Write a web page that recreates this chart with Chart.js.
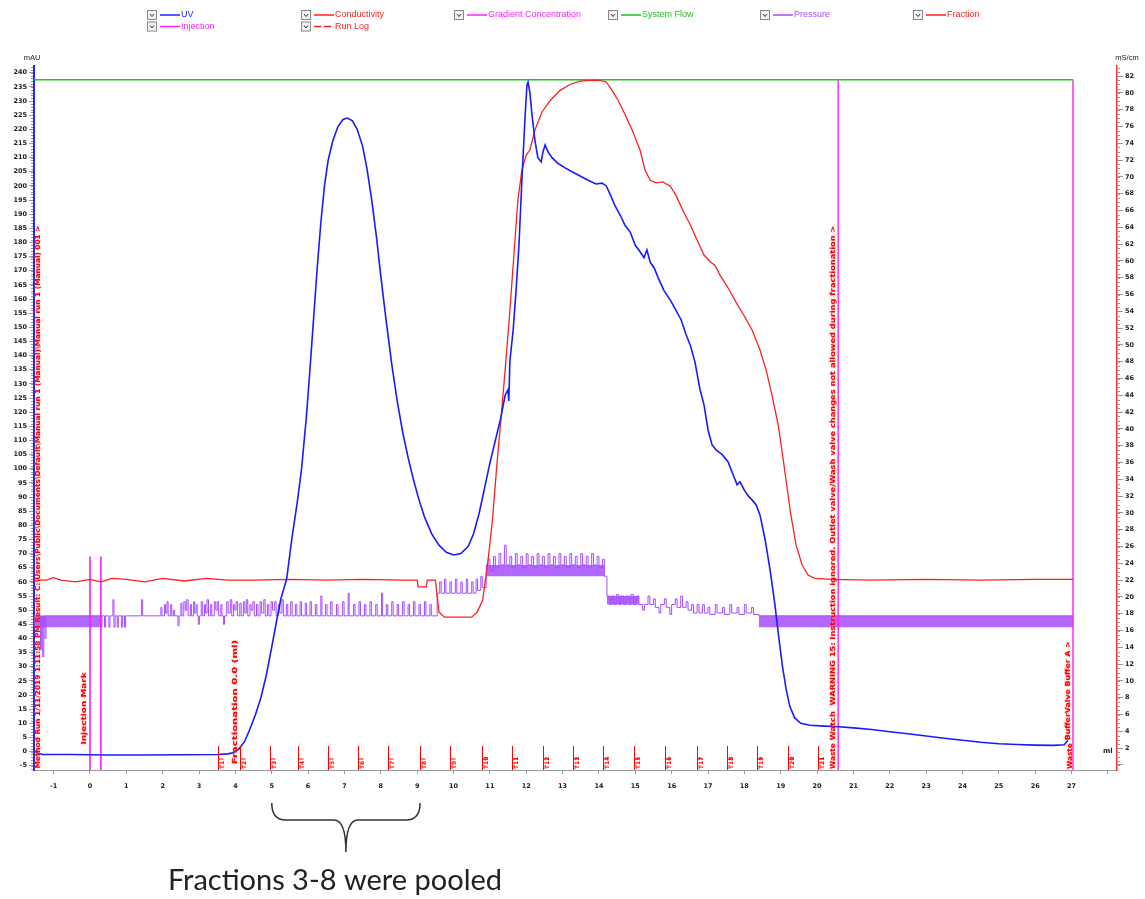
<!DOCTYPE html>
<html>
<head>
<meta charset="utf-8">
<title>Chromatogram</title>
<script src="https://cdn.jsdelivr.net/npm/chart.js@4.4.1/dist/chart.umd.min.js"></script>
<style>
  html, body { margin: 0; padding: 0; background: #fff; }
  #wrap { position: relative; width: 1145px; height: 899px; }
</style>
</head>
<body>
<div id="wrap"><canvas id="chart" width="1145" height="899"></canvas></div>
<script>
// UV 280 trace: [ml, mAU]
const uv = [
  [-1.54, 0.5], [-1.45, -0.5], [-1.3, -1], [-0.5, -1], [0.5, -1.2], [1.5, -1.2], [2.5, -1.1], [3.5, -1],
  [3.8, -0.8], [3.95, -0.3], [4.1, 1], [4.25, 3.5], [4.4, 8], [4.55, 13], [4.7, 19], [4.85, 27],
  [5.0, 37], [5.13, 46], [5.25, 54], [5.41, 61], [5.55, 75], [5.7, 88], [5.82, 100], [5.95, 118],
  [6.05, 135], [6.15, 153], [6.25, 171], [6.35, 187], [6.45, 200], [6.55, 209], [6.68, 216], [6.82, 221],
  [6.96, 223.5], [7.08, 224], [7.22, 223], [7.35, 220], [7.5, 214], [7.62, 206], [7.75, 195], [7.88, 182],
  [8.0, 168], [8.15, 152], [8.3, 137], [8.45, 124], [8.6, 113], [8.75, 104], [8.9, 96], [9.05, 89],
  [9.2, 83], [9.4, 77], [9.6, 73], [9.8, 70.5], [10.0, 69.5], [10.2, 70], [10.4, 72.5], [10.55, 77],
  [10.7, 84], [10.85, 93], [11.0, 102], [11.15, 110], [11.3, 118], [11.42, 126], [11.5, 128], [11.52, 124],
  [11.55, 138], [11.64, 149], [11.72, 163], [11.8, 179], [11.88, 202], [11.97, 225], [12.02, 235.7], [12.05, 236.7],
  [12.1, 233], [12.16, 225], [12.24, 216], [12.32, 210], [12.41, 208.5], [12.46, 212], [12.52, 214.5], [12.6, 212],
  [12.71, 210], [12.87, 208], [13.07, 206.4], [13.26, 205], [13.48, 203.5], [13.7, 202], [13.92, 200.7], [14.09, 201],
  [14.2, 200], [14.31, 197], [14.44, 193], [14.58, 189.8], [14.72, 186], [14.86, 183.7], [15.0, 179], [15.13, 176.7],
  [15.24, 174.6], [15.32, 177.4], [15.41, 173], [15.52, 171], [15.63, 167.5], [15.79, 163], [15.96, 159.7], [16.12, 156],
  [16.26, 152.7], [16.4, 147.3], [16.51, 143.8], [16.64, 137.8], [16.78, 128], [16.89, 122.6], [17.0, 113.8], [17.11, 108.5],
  [17.22, 106.7], [17.39, 105], [17.55, 102.5], [17.69, 97.9], [17.8, 94.3], [17.88, 95.4], [17.99, 92.6], [18.1, 90.5],
  [18.21, 89], [18.32, 87.3], [18.43, 83.7], [18.57, 75], [18.71, 64], [18.84, 52], [18.95, 40], [19.05, 30],
  [19.15, 22], [19.25, 16], [19.38, 12], [19.55, 10], [19.8, 9.3], [20.2, 9], [20.6, 8.8], [21.0, 8.4],
  [21.5, 7.8], [22.0, 7], [22.5, 6.3], [23.0, 5.5], [23.5, 4.7], [24.0, 4], [24.5, 3.3], [25.0, 2.8],
  [25.5, 2.5], [26.0, 2.3], [26.5, 2.2], [26.8, 2.4], [26.9, 4]
];

// Conductivity: [ml, mS/cm]
const conductivity = [
  [-1.54, 22.0], [-1.2, 22.0], [-1.0, 22.3], [-0.8, 22.0], [-0.4, 21.8], [0.0, 22.1], [0.3, 21.8], [0.6, 22.2],
  [1.0, 22.1], [1.5, 21.8], [2.0, 22.2], [2.6, 21.9], [3.2, 22.2], [3.8, 22.0], [4.5, 22.0], [5.5, 22.1],
  [6.5, 22.0], [7.5, 22.1], [8.6, 22.0], [9.0, 22.0], [9.03, 21.2], [9.25, 21.2], [9.28, 22.0], [9.5, 22.0],
  [9.6, 18.2], [9.75, 17.6], [10.5, 17.6], [10.65, 18.2], [10.8, 19.6], [10.95, 24.4], [11.07, 29.1], [11.18, 35.1],
  [11.3, 41], [11.42, 47], [11.55, 54.1], [11.66, 60.7], [11.77, 67.2], [11.88, 70.8], [12.0, 72.6], [12.1, 73.2],
  [12.24, 75.6], [12.43, 77.7], [12.66, 79.1], [12.93, 80.3], [13.2, 81], [13.48, 81.4], [13.76, 81.5], [14.03, 81.5],
  [14.2, 81.3], [14.36, 80.3], [14.53, 79.1], [14.72, 77.4], [14.91, 75.6], [15.13, 73.2], [15.27, 70.8], [15.41, 69.6],
  [15.57, 69.3], [15.76, 69.4], [15.96, 68.9], [16.12, 67.8], [16.31, 66], [16.51, 64.3], [16.7, 62.5], [16.89, 60.7],
  [17.06, 59.9], [17.19, 59.5], [17.33, 58.3], [17.55, 56.8], [17.77, 55.1], [17.99, 53.5], [18.21, 51.8], [18.43, 49.4],
  [18.6, 47], [18.76, 44], [18.93, 40.5], [19.09, 35.7], [19.26, 30.3], [19.42, 26.2], [19.59, 23.8], [19.75, 22.6],
  [19.94, 22.2], [20.4, 22.1], [21.5, 22.0], [23.0, 22.1], [24.5, 22.0], [26.0, 22.1], [27.04, 22.1]
];

// Pressure, drawn as steps on the mAU scale: [ml, value]
const pressure = [
  [-1.54, 48], [-1.36, 36], [-1.33, 48], [-1.3, 33.5], [-1.27, 48], [-1.24, 40], [-1.21, 48],
  [0.4, 44], [0.43, 48], [0.52, 44], [0.55, 48], [0.63, 53.7], [0.66, 44], [0.69, 48], [0.75, 44], [0.78, 48],
  [0.87, 44], [0.9, 48], [0.95, 44], [0.98, 48], [1.42, 53.7], [1.45, 48],
  [1.95, 51], [1.98, 48], [2.05, 52], [2.08, 49], [2.12, 53], [2.15, 48], [2.22, 52], [2.25, 48], [2.3, 50], [2.33, 48],
  [2.42, 44.5], [2.45, 48], [2.5, 52.5], [2.53, 48], [2.58, 53], [2.62, 50], [2.66, 53.7], [2.7, 48], [2.76, 52], [2.79, 48],
  [2.85, 53], [2.88, 49], [2.92, 52], [2.95, 48], [2.98, 45], [3.01, 48], [3.06, 53], [3.1, 48], [3.15, 52], [3.18, 49],
  [3.22, 53.7], [3.26, 48], [3.32, 52], [3.35, 48], [3.42, 53], [3.46, 50], [3.5, 53], [3.54, 48], [3.6, 52], [3.63, 48],
  [3.67, 45], [3.7, 48], [3.76, 53], [3.8, 49], [3.86, 53.7], [3.9, 48], [3.95, 52], [3.98, 50], [4.02, 53], [4.06, 48],
  [4.12, 52.5], [4.16, 48], [4.22, 53], [4.26, 49], [4.3, 53.7], [4.34, 48], [4.4, 52], [4.43, 50], [4.48, 53], [4.52, 48],
  [4.58, 52], [4.62, 48], [4.68, 53], [4.72, 49], [4.78, 53.7], [4.82, 48], [4.88, 52], [4.92, 48], [4.98, 53], [5.02, 50],
  [5.08, 53], [5.12, 48], [5.18, 52], [5.22, 49], [5.28, 53.7], [5.32, 48], [5.4, 52], [5.44, 48], [5.52, 53], [5.56, 48],
  [5.65, 52], [5.69, 48], [5.78, 53], [5.82, 48], [5.92, 52.5], [5.96, 48], [6.05, 53], [6.09, 48], [6.2, 52], [6.24, 48],
  [6.35, 55], [6.38, 48], [6.48, 52], [6.52, 48], [6.62, 53], [6.66, 48], [6.78, 52], [6.82, 48], [6.95, 53], [6.99, 48],
  [7.1, 56], [7.13, 48], [7.25, 52], [7.29, 48], [7.4, 53], [7.44, 48], [7.55, 52], [7.59, 48], [7.7, 53], [7.74, 48],
  [7.86, 52], [7.9, 48], [8.02, 56], [8.05, 48], [8.15, 52], [8.19, 48], [8.3, 53], [8.34, 48], [8.45, 52], [8.49, 48],
  [8.6, 53], [8.64, 48], [8.75, 52], [8.79, 48], [8.9, 53], [8.94, 48], [9.05, 52], [9.09, 48], [9.2, 53], [9.24, 48],
  [9.35, 52], [9.39, 48],
  [9.55, 56], [9.62, 60], [9.66, 56], [9.75, 61], [9.79, 56], [9.9, 60], [9.94, 56], [10.05, 61], [10.09, 56], [10.2, 60],
  [10.24, 56], [10.35, 61], [10.39, 56], [10.5, 60], [10.54, 56], [10.62, 61], [10.66, 57], [10.75, 62], [10.79, 58],
  [10.9, 66], [10.95, 68], [11.0, 64], [11.1, 69], [11.15, 65], [11.25, 70], [11.3, 66], [11.4, 73], [11.45, 66], [11.55, 69],
  [11.6, 65], [11.7, 70], [11.75, 66], [11.85, 69], [11.9, 65], [12.0, 70], [12.05, 66], [12.15, 69], [12.2, 65], [12.3, 70],
  [12.35, 66], [12.45, 69], [12.5, 65], [12.6, 70], [12.65, 66], [12.75, 69], [12.8, 65], [12.9, 70], [12.95, 66], [13.05, 69],
  [13.1, 65], [13.2, 70], [13.25, 66], [13.35, 69], [13.4, 65], [13.5, 70], [13.55, 66], [13.65, 69], [13.7, 65], [13.8, 70],
  [13.85, 66], [13.95, 69], [14.0, 65], [14.1, 68], [14.15, 62],
  [14.22, 55], [14.3, 52], [14.35, 55], [14.42, 52], [14.48, 55.5], [14.55, 52], [14.6, 55], [14.68, 52], [14.74, 55], [14.82, 52],
  [14.88, 55.5], [14.95, 52], [15.02, 55], [15.1, 52], [15.2, 50], [15.25, 52], [15.35, 55], [15.4, 52], [15.5, 54], [15.55, 51],
  [15.65, 49], [15.7, 52], [15.8, 54], [15.85, 51], [15.95, 48.5], [16.0, 52], [16.1, 54], [16.15, 51], [16.25, 55], [16.3, 51],
  [16.4, 53], [16.45, 50], [16.55, 52], [16.6, 49], [16.7, 52], [16.75, 49],
  [16.85, 52], [16.9, 49], [17.0, 51], [17.05, 48.5], [17.2, 52], [17.25, 49], [17.4, 51], [17.45, 48.5], [17.6, 52], [17.65, 49],
  [17.8, 51], [17.85, 48.5], [18.0, 52], [18.05, 49], [18.2, 51], [18.25, 48.5], [18.4, 48], [27.04, 48]
];

// Dense pressure noise bands
const bandStart = [-1.54, 10.9, 14.22, 18.4];
const bandEnd   = [0.35, 14.15, 15.1, 27.04];
const bandLow   = [44, 62, 52, 44];
const bandHigh  = [48, 66, 55, 48];

// System flow and run marks
const flowMl = [-1.54, 27.04];
const flowLevel = 237.5;
const injectionMl = [0.0, 0.3];
const injectionTop = 69;
const methodMl = [20.58, 27.04];

// Fractions
const fractionMl = [3.52, 4.13, 4.95, 5.72, 6.55, 7.37, 8.2, 9.08, 9.9, 10.78, 11.61,
  12.46, 13.29, 14.11, 14.97, 15.82, 16.7, 17.52, 18.35, 19.2, 20.03];
const fractionLabels = ['T1', 'T2', 'T3', 'T4', 'T5', 'T6', 'T7', 'T8', 'T9', 'T10', 'T11',
  'T12', 'T13', 'T14', 'T15', 'T16', 'T17', 'T18', 'T19', 'T20', 'T21'];
const wasteMl = [20.44, 26.96];

// Run log texts (vertical), spans given in mAU
const logMl = [-1.42, -0.15, 4.0, 20.44, 26.9];
const logText = [
  'Method Run 1/11/2019 1:11:58 PM Result: C:\\Users\\Public\\Documents\\Default\\Manual run 1 (Manual)\\Manual run 1 (Manual) 001 >',
  'Injection Mark',
  'Fractionation 0.0 (ml)',
  'Watch  WARNING 15: Instruction ignored. Outlet valve/Wash valve changes not allowed during fractionation >',
  'BufferValve Buffer A >'
];
const logBottom = [-6, 2.5, -4.5, 4, 4];
const logTop = [186, 28, 39.5, 186, 39];

// Legend
const legendLabels = ['UV', 'Conductivity', 'Gradient Concentration', 'System Flow', 'Pressure', 'Fraction', 'Injection', 'Run Log'];
const legendColors = ['#2020ff', '#ff2020', '#ff20ff', '#20c020', '#a64dff', '#ff2020', '#ff20ff', '#ff2020'];
const legendX = [147, 301, 454, 608, 760, 913, 147, 301];
const legendRow = [0, 0, 0, 0, 0, 0, 1, 1];

// Axes
const xRange = [-1.54, 28.25];
const mauRange = [-6.5, 242.4];
const msRange = [-0.6, 83.2];
const pooledRange = [5.0, 9.08];
const caption = 'Fractions 3-8 were pooled';

const pts = arr => arr.map(p => ({ x: p[0], y: p[1] }));
const tickFont = { family: 'DejaVu Sans', size: 6.5, weight: 'bold' };

const datasets = [
  { label: 'UV', data: pts(uv), borderColor: '#1a1aff', borderWidth: 1.6, yAxisID: 'y' },
  { label: 'Conductivity', data: pts(conductivity), borderColor: '#ff1f1f', borderWidth: 1.3, yAxisID: 'y2' },
  { label: 'System Flow', data: flowMl.map(x => ({ x, y: flowLevel })), borderColor: '#1ec81e', borderWidth: 1.5, yAxisID: 'y' }
];
injectionMl.forEach(x => datasets.push({
  label: 'Injection', data: [{ x, y: mauRange[0] }, { x, y: injectionTop }],
  borderColor: '#ff1aff', borderWidth: 1.6, yAxisID: 'y'
}));
methodMl.forEach(x => datasets.push({
  label: 'Method', data: [{ x, y: mauRange[0] }, { x, y: flowLevel }],
  borderColor: '#ff1aff', borderWidth: 1.4, yAxisID: 'y'
}));
datasets.push({ label: 'Pressure', data: pts(pressure), borderColor: '#a64dff', borderWidth: 1, stepped: true, yAxisID: 'y' });
bandStart.forEach((s, i) => datasets.push({
  label: 'Pressure band', data: [{ x: s, y: bandHigh[i] }, { x: bandEnd[i], y: bandHigh[i] }],
  borderWidth: 0, backgroundColor: 'rgba(166,77,255,0.85)', fill: { value: bandLow[i] }, yAxisID: 'y'
}));

// red run-log text, read bottom to top, stretched to fill its span
function vText(ctx, text, x, yBottom, yTop, font) {
  ctx.save();
  ctx.translate(x, yBottom);
  ctx.rotate(-Math.PI / 2);
  ctx.font = font;
  ctx.textAlign = 'left';
  ctx.textBaseline = 'middle';
  const w = ctx.measureText(text).width;
  ctx.scale((yBottom - yTop) / w, 1);
  ctx.shadowColor = 'rgba(255,120,120,0.8)';
  ctx.shadowBlur = 2;
  ctx.fillStyle = '#ff0000';
  ctx.fillText(text, 0, 0);
  ctx.restore();
}

const overlay = {
  id: 'overlay',
  afterDraw(chart) {
    const { ctx, chartArea, scales } = chart;
    const xs = scales.x, ys = scales.y, y2 = scales.y2;
    const bottom = chartArea.bottom;

    // legend
    ctx.save();
    ctx.font = '9px "Liberation Sans"';
    ctx.textBaseline = 'middle';
    ctx.textAlign = 'left';
    legendLabels.forEach((lab, i) => {
      const x = legendX[i], y = legendRow[i] ? 26.5 : 15;
      ctx.fillStyle = '#f2f2f2';
      ctx.fillRect(x, y - 5, 10, 10);
      ctx.strokeStyle = '#8a8a8a';
      ctx.lineWidth = 1;
      ctx.strokeRect(x + 0.5, y - 4.5, 9, 9);
      ctx.strokeStyle = '#333';
      ctx.beginPath();
      ctx.moveTo(x + 3, y - 1); ctx.lineTo(x + 5, y + 1.5); ctx.lineTo(x + 7, y - 1);
      ctx.stroke();
      ctx.strokeStyle = legendColors[i];
      ctx.lineWidth = 1.5;
      ctx.setLineDash(lab === 'Run Log' ? [7, 3] : []);
      ctx.beginPath();
      ctx.moveTo(x + 13, y); ctx.lineTo(x + 33, y);
      ctx.stroke();
      ctx.setLineDash([]);
      ctx.fillStyle = legendColors[i];
      ctx.fillText(lab, x + 34, y);
    });
    ctx.restore();

    // axis units
    ctx.save();
    ctx.fillStyle = '#222';
    ctx.font = '7.5px "Liberation Sans"';
    ctx.textAlign = 'center';
    ctx.textBaseline = 'middle';
    ctx.fillText('mAU', 32, 58);
    ctx.fillText('mS/cm', 1127, 58);
    ctx.font = 'bold 7px "DejaVu Sans"';
    ctx.fillText('ml', xs.getPixelForValue(28), y2.getPixelForValue(1.6));
    ctx.restore();

    // minor ticks
    ctx.save();
    ctx.strokeStyle = '#999';
    ctx.lineWidth = 1;
    ctx.beginPath();
    for (let v = -6; v <= 242; v++) {
      const y = Math.round(ys.getPixelForValue(v)) + 0.5;
      ctx.moveTo(chartArea.left - 3, y); ctx.lineTo(chartArea.left - 1, y);
    }
    for (let k = 0; k <= 166; k++) {
      const y = Math.round(y2.getPixelForValue(k / 2)) + 0.5;
      ctx.moveTo(chartArea.right + 1, y); ctx.lineTo(chartArea.right + 3, y);
    }
    ctx.stroke();
    ctx.restore();

    // fraction marks
    ctx.save();
    ctx.strokeStyle = '#ff0000';
    ctx.lineWidth = 1;
    fractionMl.forEach((f, i) => {
      const x = Math.round(xs.getPixelForValue(f)) + 0.5;
      ctx.beginPath();
      ctx.moveTo(x, bottom - 24); ctx.lineTo(x, bottom);
      ctx.moveTo(x, bottom - 11); ctx.lineTo(x + 5, bottom - 11);
      ctx.stroke();
      ctx.save();
      ctx.translate(x + 4, bottom - 1);
      ctx.rotate(-Math.PI / 2);
      ctx.font = 'bold 6px "DejaVu Sans"';
      ctx.fillStyle = '#ff0000';
      ctx.textBaseline = 'middle';
      ctx.textAlign = 'left';
      ctx.fillText(fractionLabels[i], 0, 0);
      ctx.restore();
    });
    ctx.restore();
    wasteMl.forEach(w => vText(ctx, 'Waste', xs.getPixelForValue(w), bottom - 1, ys.getPixelForValue(3), 'bold 7px "DejaVu Sans"'));

    // run log
    logText.forEach((t, i) => vText(ctx, t, xs.getPixelForValue(logMl[i]), ys.getPixelForValue(logBottom[i]),
      ys.getPixelForValue(logTop[i]), 'bold 7px "DejaVu Sans"'));

    // pooled bracket and caption
    const xl = xs.getPixelForValue(pooledRange[0]);
    const xr = xs.getPixelForValue(pooledRange[1]);
    const xc = (xl + xr) / 2;
    const top = 803, mid = 820, tip = 852;
    ctx.save();
    ctx.strokeStyle = '#333';
    ctx.lineWidth = 1.5;
    ctx.beginPath();
    ctx.moveTo(xl, top);
    ctx.quadraticCurveTo(xl, mid, xl + 14, mid);
    ctx.lineTo(xc - 12, mid);
    ctx.quadraticCurveTo(xc, mid, xc, tip);
    ctx.quadraticCurveTo(xc, mid, xc + 12, mid);
    ctx.lineTo(xr - 14, mid);
    ctx.quadraticCurveTo(xr, mid, xr, top);
    ctx.stroke();
    ctx.fillStyle = '#222';
    ctx.font = '29px Lato';
    ctx.textAlign = 'center';
    ctx.textBaseline = 'middle';
    ctx.fillText(caption, 335, 881);
    ctx.restore();
  }
};

new Chart(document.getElementById('chart'), {
  type: 'line',
  data: { datasets },
  options: {
    responsive: false,
    animation: false,
    events: [],
    elements: { point: { radius: 0 }, line: { tension: 0 } },
    layout: { padding: { top: 66, bottom: 99, left: 0, right: 0 } },
    plugins: { legend: { display: false }, tooltip: { enabled: false } },
    scales: {
      x: {
        type: 'linear', min: xRange[0], max: xRange[1],
        border: { color: '#999' },
        grid: { drawOnChartArea: false, tickLength: 4, color: '#999' },
        ticks: { stepSize: 1, includeBounds: false, autoSkip: false, maxRotation: 0, padding: 8,
          font: tickFont, color: '#222', callback: v => (v > 27 ? '' : v) },
        afterFit: s => { s.height = 30; }
      },
      y: {
        position: 'left', min: mauRange[0], max: mauRange[1],
        border: { color: '#2424ff', width: 2 },
        grid: { drawOnChartArea: false, tickLength: 5, color: '#999' },
        ticks: { stepSize: 5, includeBounds: false, autoSkip: false, padding: 2, font: tickFont, color: '#222' },
        afterFit: s => { s.width = 34; }
      },
      y2: {
        position: 'right', min: msRange[0], max: msRange[1],
        border: { color: '#ff3030', width: 1.5 },
        grid: { drawOnChartArea: false, tickLength: 6, color: '#999' },
        ticks: { stepSize: 2, includeBounds: false, autoSkip: false, padding: 2, font: tickFont, color: '#222',
          callback: v => (v === 0 ? '' : v) },
        afterFit: s => { s.width = 28; }
      }
    }
  },
  plugins: [overlay]
});
</script>
</body>
</html>
